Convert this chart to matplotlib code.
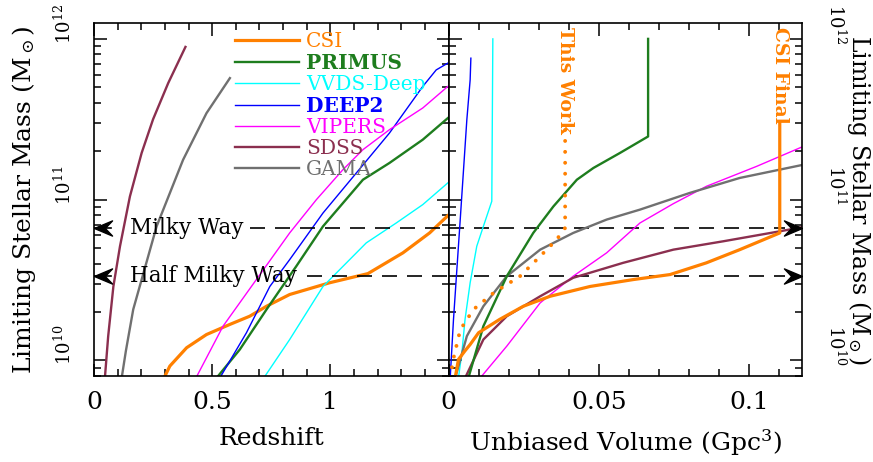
import numpy as np
import matplotlib
matplotlib.use('Agg')
import matplotlib.pyplot as plt
import matplotlib.transforms as mtransforms
from matplotlib.path import Path
from matplotlib.ticker import MultipleLocator, LogLocator, NullFormatter

plt.rcParams['font.family'] = ['DejaVu Serif']
plt.rcParams['mathtext.fontset'] = 'dejavuserif'

# ---- data: log10 of limiting stellar mass vs redshift (left panel) ----
csi_z = [0.296, 0.321, 0.392, 0.476, 0.575, 0.659, 0.730, 0.828, 0.997, 1.159, 1.307, 1.42, 1.497]
csi_lm = [9.89, 9.965, 10.079, 10.161, 10.224, 10.275, 10.337, 10.410, 10.483, 10.540, 10.669, 10.793, 10.90]
primus_z = [0.518, 0.617, 0.730, 0.856, 0.969, 1.138, 1.25, 1.391, 1.497]
primus_lm = [9.89, 10.068, 10.317, 10.586, 10.834, 11.124, 11.228, 11.373, 11.507]
vvds_z = [0.718, 0.828, 0.969, 1.152, 1.279, 1.391, 1.497]
vvds_lm = [9.89, 10.130, 10.46, 10.731, 10.855, 10.969, 11.104]
deep2_z = [0.532, 0.645, 0.744, 0.828, 0.969, 1.11, 1.25, 1.391, 1.448, 1.497]
deep2_lm = [9.89, 10.172, 10.46, 10.627, 10.917, 11.166, 11.414, 11.704, 11.807, 11.849]
vipers_z = [0.431, 0.546, 0.687, 0.828, 0.941, 1.053, 1.138, 1.25, 1.391, 1.497]
vipers_lm = [9.89, 10.213, 10.503, 10.793, 11.0, 11.186, 11.311, 11.435, 11.57, 11.704]
sdss_z = [0.046, 0.060, 0.082, 0.110, 0.152, 0.2015, 0.25, 0.314, 0.387]
sdss_lm = [9.89, 10.15, 10.46, 10.71, 11.02, 11.29, 11.50, 11.725, 11.95]
gama_z = [0.117, 0.135, 0.166, 0.265, 0.377, 0.476, 0.575]
gama_lm = [9.89, 10.06, 10.317, 10.834, 11.248, 11.538, 11.756]

# ---- data: log10 of limiting stellar mass vs unbiased volume in Gpc^3 (right panel) ----
csi_v = [0.0022, 0.0033, 0.0055, 0.0072, 0.0100, 0.0170, 0.0249, 0.0338, 0.0471, 0.0615, 0.0737, 0.0858, 0.0969, 0.1102, 0.1102]
csi_vlm = [9.89, 10.006, 10.06, 10.099, 10.172, 10.255, 10.337, 10.399, 10.46, 10.503, 10.534, 10.607, 10.689, 10.793, 11.476]
this_v = [0.0006, 0.0015, 0.0039, 0.0083, 0.015, 0.0238, 0.0305, 0.036, 0.0388, 0.0388]
this_vlm = [9.89, 10.0, 10.19, 10.317, 10.42, 10.524, 10.648, 10.752, 10.824, 11.435]
primus_v = [0.0066, 0.0116, 0.0194, 0.0282, 0.0349, 0.0427, 0.0482, 0.057, 0.0664, 0.0664]
primus_vlm = [9.89, 10.213, 10.524, 10.793, 10.958, 11.124, 11.197, 11.29, 11.393, 12.0]
vvds_v = [0.0033, 0.00445, 0.0055, 0.0072, 0.0094, 0.0116, 0.0144, 0.01475]
vvds_vlm = [9.89, 10.048, 10.255, 10.483, 10.71, 10.834, 10.99, 12.0]
deep2_v = [0.00056, 0.00166, 0.0039, 0.0061, 0.0072, 0.00744]
deep2_vlm = [9.89, 10.255, 10.876, 11.497, 11.745, 11.88]
vipers_v = [0.0105, 0.0194, 0.0305, 0.0415, 0.0526, 0.0637, 0.0748, 0.0858, 0.1025, 0.118]
vipers_vlm = [9.89, 10.089, 10.358, 10.524, 10.669, 10.855, 10.975, 11.083, 11.207, 11.331]
sdss_v = [0.0055, 0.0116, 0.0194, 0.0305, 0.0415, 0.0581, 0.0748, 0.0914, 0.1102, 0.118]
sdss_vlm = [9.89, 10.13, 10.275, 10.399, 10.514, 10.607, 10.689, 10.741, 10.803, 10.83]
gama_v = [0.0022, 0.0061, 0.0116, 0.0194, 0.0305, 0.0415, 0.0526, 0.0637, 0.0803, 0.0969, 0.118]
gama_vlm = [9.89, 10.151, 10.337, 10.524, 10.689, 10.793, 10.876, 10.938, 11.042, 11.135, 11.217]

milky_way = 6.67e10
half_milky_way = milky_way / 2

c_csi = '#FF8000'
c_primus = '#1E7D1E'
c_vvds = '#00FFFF'
c_deep2 = '#0000FF'
c_vipers = '#FF00FF'
c_sdss = '#8B2F4F'
c_gama = '#707070'

fig = plt.figure(figsize=(8.73, 4.62), dpi=100)
ax1 = fig.add_axes([0.10767, 0.18615, 0.40608, 0.76342])
ax2 = fig.add_axes([0.51375, 0.18615, 0.40458, 0.76342])

def m(lm):
    return 10 ** np.array(lm)

# left panel
ax1.plot(csi_z, m(csi_lm), color=c_csi, lw=2.3, label='CSI')
ax1.plot(primus_z, m(primus_lm), color=c_primus, lw=1.7, label='PRIMUS')
ax1.plot(vvds_z, m(vvds_lm), color=c_vvds, lw=1.0, label='VVDS-Deep')
ax1.plot(deep2_z, m(deep2_lm), color=c_deep2, lw=1.0, label='DEEP2')
ax1.plot(vipers_z, m(vipers_lm), color=c_vipers, lw=1.0, label='VIPERS')
ax1.plot(sdss_z, m(sdss_lm), color=c_sdss, lw=1.7, label='SDSS')
ax1.plot(gama_z, m(gama_lm), color=c_gama, lw=1.7, label='GAMA')

# right panel
ax2.plot(deep2_v, m(deep2_vlm), color=c_deep2, lw=1.0)
ax2.plot(vvds_v, m(vvds_vlm), color=c_vvds, lw=1.0)
ax2.plot(vipers_v, m(vipers_vlm), color=c_vipers, lw=1.0)
ax2.plot(sdss_v, m(sdss_vlm), color=c_sdss, lw=1.7)
ax2.plot(gama_v, m(gama_vlm), color=c_gama, lw=1.7)
ax2.plot(primus_v, m(primus_vlm), color=c_primus, lw=1.7)
ax2.plot(this_v, m(this_vlm), color=c_csi, lw=2.8, linestyle=(0, (0.01, 2.8)),
         dash_capstyle='round')
ax2.plot(csi_v, m(csi_vlm), color=c_csi, lw=2.3)

ax2.text(this_v[-1], 1.18e12, 'This Work', color=c_csi, rotation=-90, fontsize=13.5,
         fontweight='bold', ha='center', va='top')
ax2.text(csi_v[-1], 1.18e12, 'CSI Final', color=c_csi, rotation=-90, fontsize=13.5,
         fontweight='bold', ha='center', va='top')

# Milky Way reference lines
arrow_l = Path([(0, 0), (1, 0.42), (0.6, 0), (1, -0.42), (0, 0)])
arrow_r = Path([(0, 0), (-1, 0.42), (-0.6, 0), (-1, -0.42), (0, 0)])
for yv, lab, xs in [(milky_way, 'Milky Way', 0.66), (half_milky_way, 'Half Milky Way', 0.90)]:
    ax1.plot([xs, 1.5], [yv, yv], color='k', lw=1.2, dashes=(9, 6))
    ax1.plot([0, 0.07], [yv, yv], color='k', lw=1.2)
    ax1.plot(0, yv, marker=arrow_l, markersize=26, color='k', clip_on=False, zorder=5)
    ax1.text(0.152, yv, lab, fontsize=15.5, va='center', ha='left')
    ax2.plot([0, 0.112], [yv, yv], color='k', lw=1.2, dashes=(9, 6), zorder=1)
    ax2.plot(0.1175, yv, marker=arrow_r, markersize=26, color='k', clip_on=False, zorder=5)

leg = ax1.legend(loc='upper left', bbox_to_anchor=(0.397, 0.975), frameon=False,
                 fontsize=14.5, handlelength=3.2, handletextpad=0.35, labelspacing=0.1,
                 borderpad=0, borderaxespad=0, labelcolor='linecolor')
for t in leg.get_texts():
    if t.get_text() in ('PRIMUS', 'DEEP2'):
        t.set_fontweight('bold')

for ax in (ax1, ax2):
    ax.set_yscale('log')
    ax.set_ylim(8e9, 1.25e12)
    ax.set_yticks([1e10, 1e11, 1e12])
    ax.yaxis.set_minor_locator(LogLocator(base=10, subs=np.arange(2, 10)))
    ax.yaxis.set_minor_formatter(NullFormatter())
    ax.tick_params(which='both', direction='in', top=True, bottom=True, left=True, right=True,
                   width=1.1)
    ax.tick_params(which='major', length=9)
    ax.tick_params(which='minor', length=4.8)
    ax.tick_params(axis='x', labelsize=18, pad=11)
    ax.tick_params(axis='y', labelsize=13)
    for s in ax.spines.values():
        s.set_linewidth(1.2)

ax1.set_xlim(0, 1.5)
ax1.set_xticks([0, 0.5, 1])
ax1.set_xticklabels(['0', '0.5', '1'])
ax1.xaxis.set_minor_locator(MultipleLocator(0.1))
ax1.tick_params(axis='y', labelrotation=90, pad=14)
ax1.set_xlabel('Redshift', fontsize=18)
ax1.xaxis.set_label_coords(0.5, -0.145)
ax1.set_ylabel(r'Limiting Stellar Mass (M$_\odot$)', fontsize=18)
ax1.yaxis.set_label_coords(-0.158, 0.5)

ax2.set_xlim(0, 0.1175)
ax2.set_xticks([0, 0.05, 0.1])
ax2.set_xticklabels(['0', '0.05', '0.1'])
ax2.xaxis.set_minor_locator(MultipleLocator(0.01))
ax2.tick_params(axis='y', labelleft=False, labelright=True, labelrotation=-90, pad=17)
ax2.yaxis.set_label_position('right')
ax2.set_xlabel(r'Unbiased Volume (Gpc$^3$)', fontsize=18)
ax2.xaxis.set_label_coords(0.5, -0.145)
ax2.set_ylabel(r'Limiting Stellar Mass (M$_\odot$)', fontsize=17, rotation=-90)
ax2.yaxis.label.set_va('bottom')
ax2.yaxis.set_label_coords(1.122, 0.5)

# y tick labels sit just above their tick, as in the original
off = mtransforms.ScaledTranslation(0, -0.05, fig.dpi_scale_trans)
for t in ax1.yaxis.get_major_ticks():
    t.label1.set_va('bottom')
    t.label1.set_transform(t.label1.get_transform() + off)
for t in ax2.yaxis.get_major_ticks():
    t.label2.set_va('bottom')
    t.label2.set_transform(t.label2.get_transform() + off)

fig.savefig('out.png', dpi=100)
